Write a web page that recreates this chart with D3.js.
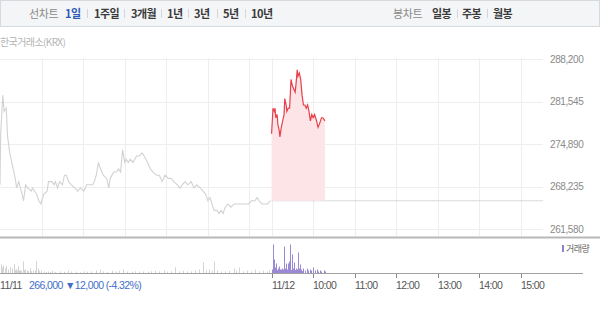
<!DOCTYPE html>
<html>
<head>
<meta charset="utf-8">
<script src="https://cdn.jsdelivr.net/npm/d3@7"></script>
<style>
  body { margin: 0; background: #fff; }
  svg { display: block; }
  text { font-family: "Liberation Sans", Arial, "Noto Sans CJK KR", sans-serif; }
  .kr { font-family: "Noto Sans CJK KR", sans-serif; }
</style>
</head>
<body>
<svg id="chart" width="600" height="309"></svg>
<script>
// --- data (minutes since 09:00 of each session, price in KRW) ---
const prevClose = 266000;
const yTicks = [261580, 268235, 274890, 281545, 288200];
const dateLabels = ['11/11', '11/12'];
const hourLabels = ['10:00', '11:00', '12:00', '13:00', '14:00', '15:00'];
const lineTabs = ['1일', '1주일', '3개월', '1년', '3년', '5년', '10년'];
const candleTabs = ['일봉', '주봉', '월봉'];
const changeText = '266,000 ▼12,000 (-4.32%)';

const day1 = [
  [0, 268500], [1, 276500], [4, 282500], [6, 280000], [9, 280500], [11, 276000],
  [14, 273500], [16, 272500], [19, 271000], [22, 269500], [24, 268000], [27, 269000],
  [32, 267000], [34, 266000], [37, 268500], [40, 268000], [45, 267500], [47, 268000],
  [50, 267500], [53, 267000], [56, 266000], [59, 265500], [63, 267000], [68, 267500],
  [70, 269000], [75, 269000], [78, 268500], [80, 269000], [83, 268000], [86, 269000],
  [90, 268500], [93, 270000], [96, 270000], [99, 269000], [103, 268500], [108, 268000],
  [112, 267500], [116, 268000], [121, 267500], [125, 268500], [129, 268500], [134, 268500],
  [136, 269000], [139, 270000], [142, 272000], [145, 271000], [149, 270000], [154, 269500],
  [157, 268000], [159, 269500], [164, 270500], [168, 270500], [171, 271000], [174, 270500],
  [177, 274000], [180, 272000], [182, 272500], [185, 272000], [188, 272500], [192, 272000],
  [197, 273000], [201, 273000], [205, 273500], [208, 273000], [213, 272000], [217, 271000],
  [221, 270500], [226, 270000], [230, 270000], [234, 269000], [238, 270000], [243, 269500],
  [247, 269500], [251, 269000], [256, 268500], [260, 268000], [263, 268500], [267, 269000],
  [271, 268500], [276, 269000], [280, 268000], [284, 268500], [289, 268000], [293, 267500],
  [297, 267000], [300, 266000], [303, 266500], [306, 265500], [309, 264500], [313, 264500],
  [316, 264000], [319, 264500], [322, 264000], [325, 265000], [329, 265500], [333, 265000],
  [338, 265500], [342, 265500], [346, 265500], [350, 265500], [355, 265500], [359, 265500],
  [363, 266000], [368, 266000], [371, 266500], [374, 266000], [378, 265500], [382, 265500],
  [386, 265500], [390, 266000]
];

const day2 = [
  [0, 276500], [2, 280500], [4, 280000], [5, 280500], [6, 279000], [8, 279500],
  [9, 278000], [11, 277000], [12, 276000], [14, 277500], [16, 278500], [18, 279500],
  [19, 282000], [21, 281000], [22, 280000], [24, 280500], [26, 280500], [28, 285000],
  [30, 284000], [32, 283500], [34, 283000], [35, 284000], [37, 286500], [38, 285500],
  [40, 286000], [42, 285000], [44, 282500], [46, 281000], [48, 281000], [50, 280500],
  [52, 281000], [54, 280000], [56, 278500], [58, 279500], [60, 279000], [62, 279500],
  [65, 278500], [67, 277500], [69, 278000], [72, 279000], [74, 279000], [77, 278500]
];

const day1Volume = [
  [1, 9000], [2, 5000], [3, 6200], [4, 8100], [5, 4500], [7, 5200], [8, 4000], [9, 7300],
  [11, 4100], [12, 3500], [14, 6400], [15, 3800], [17, 5100], [18, 3300], [20, 9200],
  [21, 3600], [23, 4300], [24, 3000], [26, 7100], [27, 3200], [29, 3200], [31, 2800],
  [33, 12100], [34, 3500], [36, 4200], [39, 3100], [41, 2600], [43, 5300], [45, 2400],
  [47, 2900], [50, 3000], [52, 12300], [55, 5000], [57, 2600], [59, 2800], [63, 2100],
  [66, 1600], [69, 1900], [72, 1500], [75, 2800], [80, 1700], [86, 2200], [92, 1800],
  [98, 2900], [103, 2000], [109, 1900], [115, 1200], [121, 2100], [126, 1800], [132, 2200],
  [138, 3100], [144, 3800], [149, 2000], [155, 1700], [161, 2800], [167, 1900], [172, 2700],
  [178, 4000], [184, 2100], [190, 1800], [195, 2200], [201, 1900], [207, 2000], [213, 1800],
  [218, 2200], [224, 2900], [230, 2000], [236, 3100], [241, 1900], [247, 2300], [253, 6100],
  [259, 2000], [264, 2800], [270, 1900], [276, 2100], [282, 2900], [287, 4100], [293, 11200],
  [297, 3000], [302, 4200], [306, 2900], [309, 12000], [313, 3100], [319, 2000], [325, 2200],
  [330, 2800], [338, 5100], [341, 3000], [345, 6000], [351, 2100], [356, 2900], [362, 2000],
  [368, 3900], [374, 2100], [379, 2800], [385, 2000], [388, 3100]
];

const day2Volume = [
  [1, 4000], [2, 29000], [3, 5000], [4, 14000], [5, 6000], [6, 4000], [7, 10000], [8, 3500],
  [9, 5000], [10, 4000], [11, 7000], [12, 4000], [13, 3500], [14, 4000], [15, 5000],
  [16, 3000], [17, 4000], [18, 27000], [19, 4000], [20, 5000], [21, 10000], [22, 4000],
  [23, 3500], [24, 10000], [25, 12000], [26, 4000], [27, 29000], [28, 3500], [29, 19000],
  [30, 4000], [31, 5000], [32, 3000], [33, 11000], [34, 3500], [35, 5000], [36, 3000],
  [37, 4000], [38, 21000], [39, 3000], [40, 5000], [41, 9000], [42, 3000], [43, 4000],
  [44, 2500], [46, 5000], [48, 3000], [51, 5000], [52, 3000], [55, 4000], [57, 3000],
  [60, 6000], [62, 3000], [65, 4000], [67, 2000], [70, 3000], [72, 2000], [75, 3000], [77, 2000]
];

const sessionLen = 392; // minute slots from one day's 09:00 to the next day's 09:00

function createChart() {
  const svg = d3.select('#chart');

  const x = d3.scaleLinear().domain([0, sessionLen + 391]).range([0, 542.5]);
  const y = d3.scaleLinear().domain([261580, 288200]).range([229, 59]);
  const yVol = d3.scaleLinear().domain([0, 33000]).range([273.5, 240.5]);

  // top tab bar
  svg.append('rect')
      .attr('x', 0.5).attr('y', 0.5).attr('width', 599).attr('height', 26)
      .attr('fill', '#f4f5f7').attr('stroke', '#d6d9de');

  const tabX = [65, 94, 131, 167, 194, 223, 251];
  const sepX = [87, 124, 161, 188, 217, 245];
  svg.append('text').attr('class', 'kr').attr('x', 29).attr('y', 17.5)
      .attr('font-size', 11).attr('fill', '#8a8a8a').attr('letter-spacing', -0.4)
      .text('선차트');
  svg.selectAll('text.tab').data(lineTabs).join('text')
      .attr('class', 'tab kr').attr('x', (d, i) => tabX[i]).attr('y', 17.5)
      .attr('font-size', 11).attr('font-weight', 'bold').attr('letter-spacing', -0.5)
      .attr('fill', (d, i) => i === 0 ? '#2d5bb5' : '#3a3a3a')
      .text(d => d);
  svg.selectAll('line.sep').data(sepX.concat([457, 487])).join('line')
      .attr('class', 'sep').attr('x1', d => d + 0.5).attr('x2', d => d + 0.5)
      .attr('y1', 9).attr('y2', 18).attr('stroke', '#d4d6da');
  svg.append('text').attr('class', 'kr').attr('x', 393).attr('y', 17.5)
      .attr('font-size', 11).attr('fill', '#8a8a8a').attr('letter-spacing', -0.4)
      .text('봉차트');
  const candleX = [432, 462, 493];
  svg.selectAll('text.ctab').data(candleTabs).join('text')
      .attr('class', 'ctab kr').attr('x', (d, i) => candleX[i]).attr('y', 17.5)
      .attr('font-size', 11).attr('font-weight', 'bold').attr('letter-spacing', -0.5)
      .attr('fill', '#3a3a3a').text(d => d);

  svg.append('text').attr('class', 'kr').attr('x', 0).attr('y', 46)
      .attr('font-size', 10).attr('fill', '#b4b4b4').attr('letter-spacing', -0.6)
      .text('한국거래소(KRX)');

  // grid
  const grid = svg.append('g');
  grid.selectAll('line.h').data(yTicks).join('line')
      .attr('x1', 0).attr('x2', 543)
      .attr('y1', d => Math.round(y(d)) + 0.5).attr('y2', d => Math.round(y(d)) + 0.5)
      .attr('stroke', '#eeeeee');
  const vMinutes = [60, 120, 180, 240, 300, 360, sessionLen]
      .concat(d3.range(6).map(i => sessionLen + 60 * (i + 1)));
  grid.selectAll('line.v').data(vMinutes).join('line')
      .attr('x1', d => Math.round(x(d)) + 0.5).attr('x2', d => Math.round(x(d)) + 0.5)
      .attr('y1', 58).attr('y2', 236)
      .attr('stroke', '#eeeeee');

  const yAxis = d3.axisRight(y).tickValues(yTicks).tickSize(0).tickPadding(0)
      .tickFormat(d3.format(','));
  svg.append('g').attr('transform', 'translate(550,0)').call(yAxis)
      .call(g => g.select('.domain').remove())
      .selectAll('text')
      .attr('font-size', 10).attr('fill', '#8a8a8a').attr('letter-spacing', -0.4)
      .attr('font-family', '"Liberation Sans", Arial, sans-serif');

  // previous close reference line
  svg.append('line')
      .attr('x1', x(sessionLen)).attr('x2', 543)
      .attr('y1', y(prevClose)).attr('y2', y(prevClose))
      .attr('stroke', '#b5b5b5').attr('stroke-dasharray', '1,1');

  const line = d3.line().x(d => x(d[0])).y(d => y(d[1]));
  const d2 = day2.map(d => [d[0] + sessionLen, d[1]]);

  svg.append('path')
      .attr('d', d3.area().x(d => x(d[0])).y0(y(prevClose)).y1(d => y(d[1]))(d2))
      .attr('fill', '#fde4e7');

  svg.append('path').attr('d', line(day1))
      .attr('fill', 'none').attr('stroke', '#d2d2d2').attr('stroke-width', 1.1);
  svg.append('path').attr('d', line(d2))
      .attr('fill', 'none').attr('stroke', '#e8404b').attr('stroke-width', 1.2);

  // separator between price and volume
  svg.append('rect').attr('x', 0).attr('y', 236.5).attr('width', 600).attr('height', 2)
      .attr('fill', '#b8b8b8');

  // volume
  svg.selectAll('rect.v1').data(day1Volume).join('rect')
      .attr('x', d => Math.round(x(d[0]))).attr('width', 1)
      .attr('y', d => yVol(d[1])).attr('height', d => yVol(0) - yVol(d[1]))
      .attr('fill', '#d4d4d4');
  svg.selectAll('rect.v2').data(day2Volume).join('rect')
      .attr('x', d => Math.round(x(d[0] + sessionLen))).attr('width', 1)
      .attr('y', d => yVol(d[1])).attr('height', d => yVol(0) - yVol(d[1]))
      .attr('fill', '#9c89d3');

  svg.append('line').attr('x1', 0).attr('x2', 583).attr('y1', 273.5).attr('y2', 273.5)
      .attr('stroke', '#a0a0a0');

  svg.append('rect').attr('x', 562).attr('y', 245).attr('width', 2).attr('height', 7)
      .attr('fill', '#8f7fcc');
  svg.append('text').attr('class', 'kr').attr('x', 566).attr('y', 252)
      .attr('font-size', 9).attr('fill', '#666').attr('letter-spacing', -0.5)
      .text('거래량');

  // x axis
  const tickMinutes = [sessionLen].concat(d3.range(6).map(i => sessionLen + 60 * (i + 1)));
  svg.selectAll('line.xt').data(tickMinutes).join('line')
      .attr('x1', d => Math.round(x(d)) + 0.5).attr('x2', d => Math.round(x(d)) + 0.5)
      .attr('y1', 274).attr('y2', 278).attr('stroke', '#888');

  svg.selectAll('text.hour').data(hourLabels).join('text')
      .attr('class', 'hour').attr('x', (d, i) => Math.round(x(tickMinutes[i + 1])))
      .attr('y', 289).attr('font-size', 10.5).attr('fill', '#555').attr('letter-spacing', -0.6)
      .text(d => d);
  svg.selectAll('text.date').data(dateLabels).join('text')
      .attr('class', 'date').attr('x', (d, i) => i === 0 ? 0 : Math.round(x(sessionLen)))
      .attr('y', 289).attr('font-size', 10.5).attr('fill', '#555').attr('letter-spacing', -0.6)
      .text(d => d);
  svg.append('text').attr('x', 29).attr('y', 289)
      .attr('font-size', 10.5).attr('fill', '#3f6fc8').attr('letter-spacing', -0.6)
      .text(changeText);
}

createChart();
</script>
</body>
</html>
